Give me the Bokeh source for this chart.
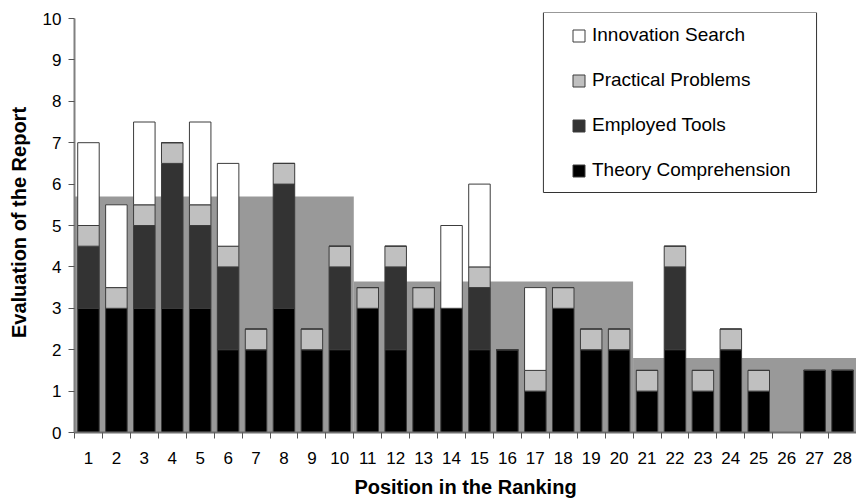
from bokeh.plotting import figure
from bokeh.models import Range1d, FixedTicker, Legend, LegendItem, ColumnDataSource, BoxAnnotation
from bokeh.embed import file_html
from bokeh.resources import INLINE

positions = list(range(1, 29))
theory = [3, 3, 3, 3, 3, 2, 2, 3, 2, 2, 3, 2, 3, 3, 2, 2, 1, 3, 2, 2, 1, 2, 1, 2, 1, 0, 1.5, 1.5]
tools = [1.5, 0, 2, 3.5, 2, 2, 0, 3, 0, 2, 0, 2, 0, 0, 1.5, 0, 0, 0, 0, 0, 0, 2, 0, 0, 0, 0, 0, 0]
practical = [0.5, 0.5, 0.5, 0.5, 0.5, 0.5, 0.5, 0.5, 0.5, 0.5, 0.5, 0.5, 0.5, 0, 0.5, 0, 0.5, 0.5, 0.5, 0.5,
             0.5, 0.5, 0.5, 0.5, 0.5, 0, 0, 0]
innovation = [2, 2, 2, 0, 2, 2, 0, 0, 0, 0, 0, 0, 0, 2, 2, 0, 2, 0, 0, 0, 0, 0, 0, 0, 0, 0, 0, 0]

# group averages (background steps)
group_first = [1, 11, 21]
group_last = [10, 20, 28]
group_mean = [5.7, 3.65, 1.8]

series_names = ["Theory Comprehension", "Employed Tools", "Practical Problems", "Innovation Search"]
series_keys = ["theory", "tools", "practical", "innovation"]
colors = ["#000000", "#333333", "#c0c0c0", "#ffffff"]

FONT = "Liberation Sans"

p = figure(width=856, height=503, output_backend="svg", toolbar_location=None,
           x_range=Range1d(0.5, 28.5), y_range=Range1d(0, 10.145),
           min_border_left=74, min_border_right=0, min_border_top=12, min_border_bottom=71)
p.outline_line_color = None
p.xgrid.visible = False
p.ygrid.visible = False
p.background_fill_color = "white"
p.border_fill_color = "white"

gsrc = ColumnDataSource(dict(left=[g - 0.5 for g in group_first],
                             right=[g + 0.5 for g in group_last],
                             top=group_mean, bottom=[0] * len(group_mean)))
p.quad(left="left", right="right", top="top", bottom="bottom", source=gsrc,
       fill_color="#999999", line_color=None)

src = ColumnDataSource(dict(x=positions, theory=theory, tools=tools,
                            practical=practical, innovation=innovation))
rs = p.vbar_stack(series_keys, x="x", width=0.77, source=src, color=colors,
                  line_color="#3c3c3c", line_width=1)
for r, c in zip(rs, colors):
    r.glyph.fill_color = c
    r.glyph.line_color = "#3c3c3c"

# legend frame
box = BoxAnnotation(left=17.29, right=27.07, top=10.145, bottom=5.797,
                    fill_color="white", fill_alpha=1.0, line_color="#333333", line_width=1,
                    line_alpha=1.0)
p.add_layout(box)

items = [LegendItem(label=n, renderers=[r]) for n, r in zip(series_names, rs)][::-1]
legend = Legend(items=items, location=(497, 251), padding=0, spacing=23,
                glyph_width=15, glyph_height=15, label_height=22, label_standoff=6,
                label_text_font=FONT, label_text_font_size="19px", label_text_color="black",
                border_line_color=None, background_fill_alpha=0.0, margin=0)
p.add_layout(legend, "center")

# x axis
p.xaxis.ticker = FixedTicker(ticks=positions, minor_ticks=[x - 0.5 for x in positions] + [28.5])
p.xaxis.major_tick_out = 0
p.xaxis.major_tick_in = 0
p.xaxis.minor_tick_out = 6
p.xaxis.minor_tick_in = 0
p.xaxis.minor_tick_line_color = "#555555"
p.xaxis.major_label_standoff = 13
p.xaxis.major_label_text_font = FONT
p.xaxis.major_label_text_font_size = "17px"
p.xaxis.major_label_text_color = "black"
p.xaxis.axis_label = "Position in the Ranking"
p.xaxis.axis_label_text_font = FONT
p.xaxis.axis_label_text_font_size = "20px"
p.xaxis.axis_label_text_font_style = "bold"
p.xaxis.axis_label_text_color = "black"
p.xaxis.axis_label_standoff = 9
p.xaxis.axis_line_color = "#6f6f6f"
p.xaxis.axis_line_width = 2

# y axis
p.yaxis.bounds = (0, 10)
p.yaxis.ticker = FixedTicker(ticks=list(range(0, 11)))
p.yaxis.major_tick_out = 6
p.yaxis.major_tick_in = 0
p.yaxis.minor_tick_out = 0
p.yaxis.minor_tick_in = 0
p.yaxis.major_tick_line_color = "#555555"
p.yaxis.major_label_standoff = 7
p.yaxis.major_label_text_font = FONT
p.yaxis.major_label_text_font_size = "17px"
p.yaxis.major_label_text_color = "black"
p.yaxis.axis_label = "Evaluation of the Report"
p.yaxis.axis_label_text_font = FONT
p.yaxis.axis_label_text_font_size = "20px"
p.yaxis.axis_label_text_font_style = "bold"
p.yaxis.axis_label_text_color = "black"
p.yaxis.axis_label_standoff = 10
p.yaxis.axis_line_color = "#808080"
p.yaxis.axis_line_width = 2

open("out.html", "w").write(file_html(p, INLINE))
